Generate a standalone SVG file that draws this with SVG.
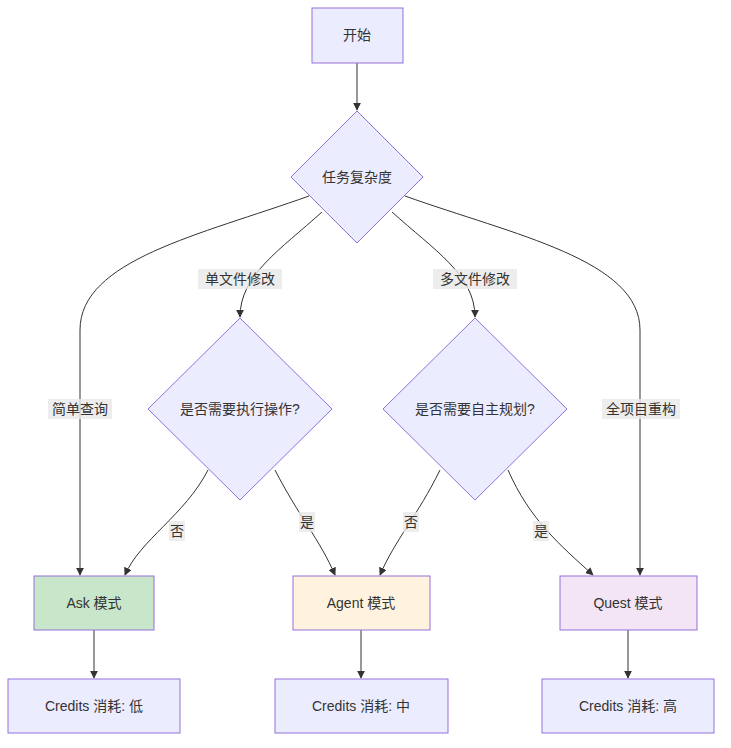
<svg xmlns="http://www.w3.org/2000/svg" width="731" height="748" viewBox="0 0 731 748">
<defs>
<marker id="a" viewBox="0 0 10 10" refX="9" refY="5" markerWidth="8" markerHeight="8" orient="auto"><path d="M0,0L10,5L0,10z" fill="#333"/></marker>
<style>
.n{fill:#ECECFF;stroke:#9370DB;stroke-width:1}
text{font-family:"Liberation Sans","Noto Sans CJK SC",sans-serif;font-size:14px;fill:#333;text-anchor:middle;dominant-baseline:central}
.e{fill:none;stroke:#333;stroke-width:1;marker-end:url(#a)}
.lb{fill:#e8e8e8;opacity:0.8}
</style>
</defs>
<rect width="731" height="748" fill="#fff"/>
<g id="edges">
<path class="e" d="M357,63V110"/>
<path class="e" d="M309,196C200,235 80,260 80,330V575"/>
<path class="e" d="M322,212C280,250 240,275 240,317"/>
<path class="e" d="M392,212C434,250 475,275 475,317"/>
<path class="e" d="M405,196C514,235 640,260 640,330V575"/>
<path class="e" d="M208,470C185,515 140,540 125,575"/>
<path class="e" d="M275,470C298,515 320,540 335,575"/>
<path class="e" d="M440,470C418,515 395,540 380,575"/>
<path class="e" d="M508,470C530,520 560,545 593,575"/>
<path class="e" d="M94,630V678"/>
<path class="e" d="M361,630V678"/>
<path class="e" d="M628,630V678"/>
<rect class="lb" x="48" y="399" width="64" height="20"/><text x="80" y="409">简单查询</text>
<rect class="lb" x="198" y="269" width="84" height="20"/><text x="240" y="279">单文件修改</text>
<rect class="lb" x="433" y="269" width="84" height="20"/><text x="475" y="279">多文件修改</text>
<rect class="lb" x="602" y="399" width="78" height="20"/><text x="641" y="409">全项目重构</text>
<rect class="lb" x="169" y="521" width="16" height="20"/><text x="177" y="531">否</text>
<rect class="lb" x="299" y="512" width="16" height="20"/><text x="307" y="522">是</text>
<rect class="lb" x="403" y="512" width="16" height="20"/><text x="411" y="522">否</text>
<rect class="lb" x="533" y="521" width="16" height="20"/><text x="541" y="531">是</text>
</g>
<g id="start"><rect class="n" x="312" y="8" width="91" height="55"/><text x="357" y="35">开始</text></g>
<g id="complexity"><polygon class="n" points="357,111 423,177 357,243 291,177"/><text x="357" y="177">任务复杂度</text></g>
<g id="exec"><polygon class="n" points="240,318 332,409 240,500 148,409"/><text x="240" y="409">是否需要执行操作?</text></g>
<g id="plan"><polygon class="n" points="475,318 567,409 475,500 383,409"/><text x="475" y="409">是否需要自主规划?</text></g>
<g id="ask"><rect x="34" y="576" width="120" height="54" fill="#c8e6c9" stroke="#9370DB"/><text x="94" y="603">Ask 模式</text></g>
<g id="agent"><rect x="293" y="576" width="137" height="54" fill="#fff3e0" stroke="#9370DB"/><text x="361" y="603">Agent 模式</text></g>
<g id="quest"><rect x="560" y="576" width="137" height="54" fill="#f3e5f5" stroke="#9370DB"/><text x="628" y="603">Quest 模式</text></g>
<g id="c1"><rect class="n" x="8" y="679" width="172" height="54"/><text x="94" y="706">Credits 消耗: 低</text></g>
<g id="c2"><rect class="n" x="275" y="679" width="173" height="54"/><text x="361" y="706">Credits 消耗: 中</text></g>
<g id="c3"><rect class="n" x="542" y="679" width="172" height="54"/><text x="628" y="706">Credits 消耗: 高</text></g>
</svg>
